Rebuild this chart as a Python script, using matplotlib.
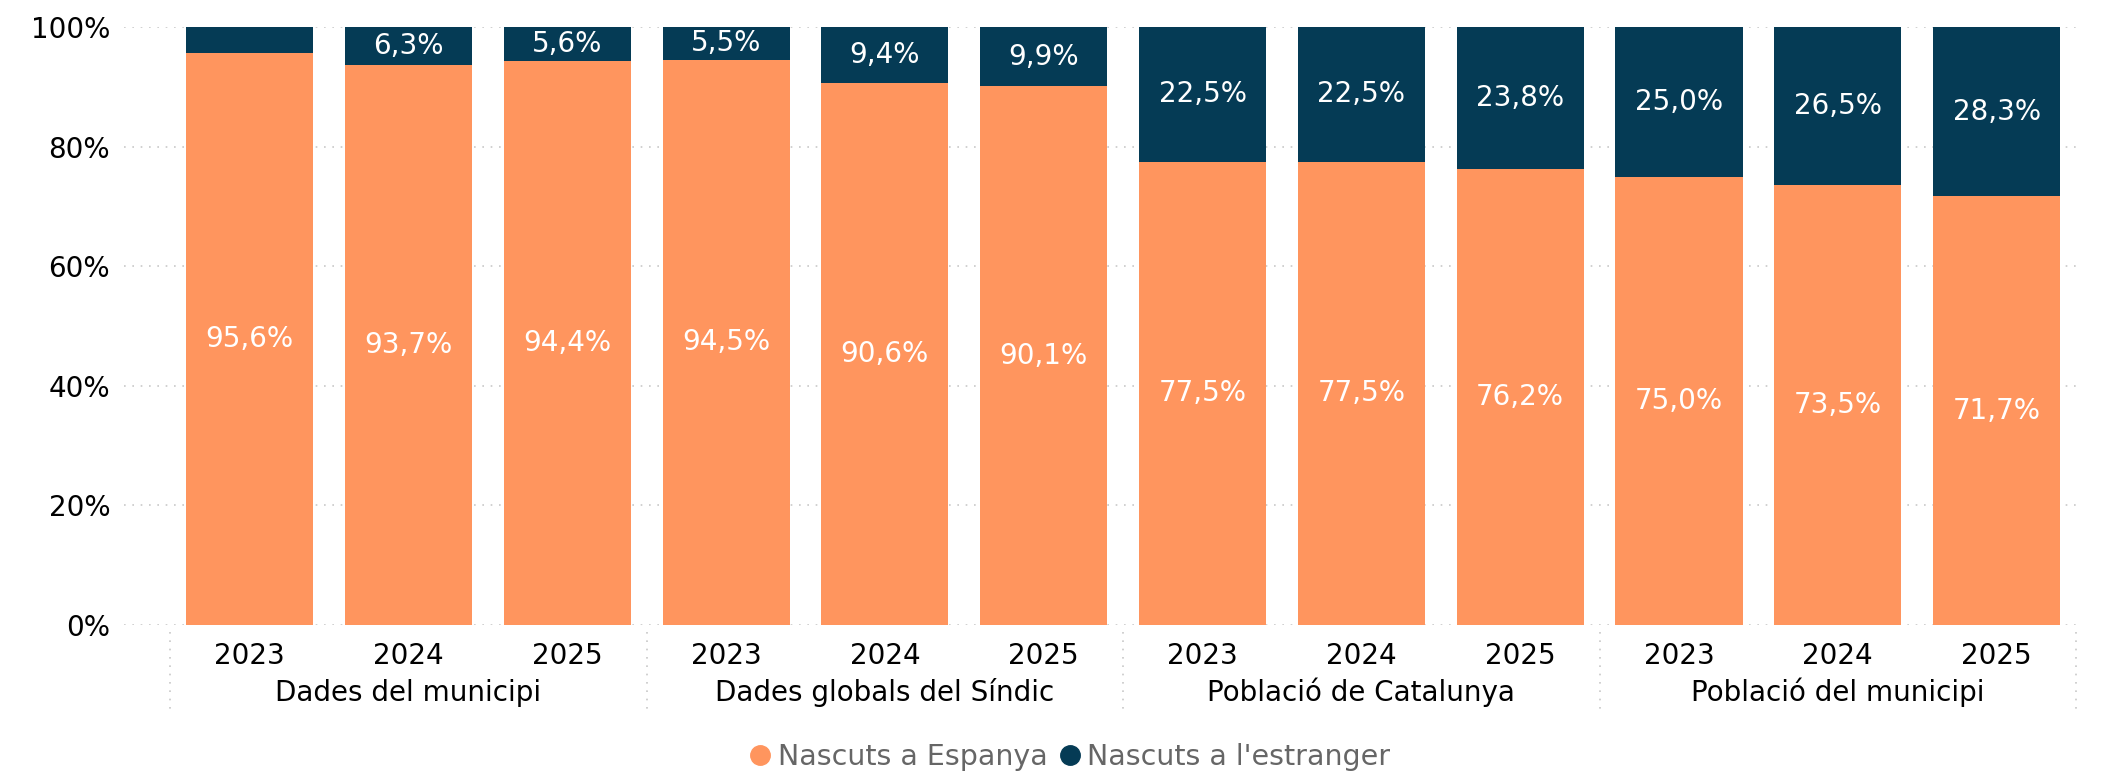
import numpy as np
import matplotlib
matplotlib.use("Agg")
import matplotlib.pyplot as plt
from matplotlib.lines import Line2D

# data
groups = ["Dades del municipi", "Dades globals del Síndic",
          "Població de Catalunya", "Població del municipi"]
years = ["2023", "2024", "2025"]
espanya = [95.6, 93.7, 94.4, 94.5, 90.6, 90.1, 77.5, 77.5, 76.2, 75.0, 73.5, 71.7]
estranger = [4.4, 6.3, 5.6, 5.5, 9.4, 9.9, 22.5, 22.5, 23.8, 25.0, 26.5, 28.3]
series_names = ["Nascuts a Espanya", "Nascuts a l'estranger"]

c_esp = "#FF955E"
c_est = "#053B55"
fs = 20

plt.rcParams['font.family'] = ['DejaVu Sans']

fig = plt.figure(figsize=(21.07, 7.72), dpi=100)
ax = fig.add_axes([0.0589, 0.1904, 0.9264, 0.7746])

x = np.arange(len(espanya))
ax.bar(x, espanya, width=0.8, color=c_esp, zorder=2)
ax.bar(x, estranger, width=0.8, bottom=espanya, color=c_est, zorder=2)

def fmt(v):
    return ("%.1f%%" % v).replace(".", ",")

for i in x:
    ax.text(i, espanya[i] / 2, fmt(espanya[i]), ha="center", va="center",
            color="white", fontsize=fs, zorder=3)
    if estranger[i] >= 5:
        ax.text(i, espanya[i] + estranger[i] / 2, fmt(estranger[i]),
                ha="center", va="center", color="white", fontsize=fs, zorder=3)

ax.set_ylim(0, 100)
ax.set_xlim(-0.79, 11.5)
ax.set_yticks([0, 20, 40, 60, 80, 100])
ax.set_yticklabels(["%d%%" % v for v in [0, 20, 40, 60, 80, 100]], fontsize=fs)
ax.yaxis.grid(True, linestyle=(0, (1, 4)), color="#c8c8c8", linewidth=1.2, zorder=0)
ax.set_xticks(x)
ax.set_xticklabels(years * len(groups), fontsize=fs)
ax.tick_params(axis="both", length=0, pad=10)
ax.tick_params(axis="x", pad=12)
for s in ax.spines.values():
    s.set_visible(False)

# group labels and separators
trans = ax.get_xaxis_transform()
for g, name in enumerate(groups):
    ax.text(3 * g + 1, -0.113, name, transform=trans, ha="center", va="center",
            fontsize=fs)
for sx in np.arange(len(groups) + 1) * 3 - 0.5:
    ax.add_line(Line2D([sx, sx], [-0.012, -0.148], transform=trans,
                       linestyle=(0, (1, 4)), color="#c8c8c8", linewidth=1.2,
                       clip_on=False))

handles = [Line2D([], [], marker="o", linestyle="", markersize=14, color=c)
           for c in (c_esp, c_est)]
fig.legend(handles, series_names, loc="center", bbox_to_anchor=(0.507, 0.02),
           ncol=2, frameon=False, fontsize=20.5, labelcolor="#666666",
           handletextpad=0.1, columnspacing=0.3, handlelength=1.0)

fig.savefig("out.png", dpi=100)
